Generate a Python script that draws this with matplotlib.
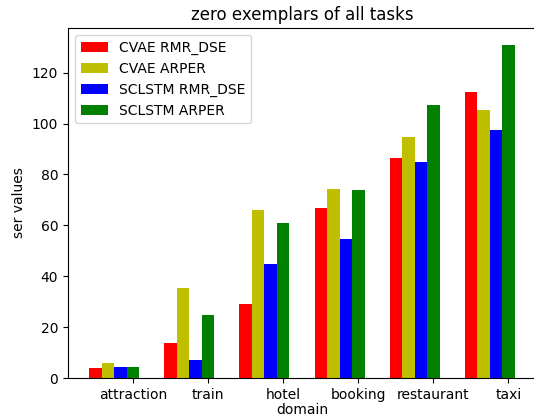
import matplotlib
matplotlib.use('Agg')
import matplotlib.pyplot as plt
import numpy as np

domains = ['attraction', 'train', 'hotel', 'booking', 'restaurant', 'taxi']
cvae_rmr = [3.8, 13.6, 29.1, 66.7, 86.4, 112.5]
cvae_arper = [6.0, 35.2, 65.9, 74.1, 94.9, 105.4]
sclstm_rmr = [4.2, 7.2, 44.7, 54.8, 85.0, 97.6]
sclstm_arper = [4.2, 24.7, 61.0, 73.7, 107.2, 131.0]

fig = plt.figure(figsize=(5.34, 4.18), dpi=100)
# the original figure is cropped on the right, so the axes run past the edge
ax = fig.add_axes([68 / 534, 40 / 418, 468 / 534, 350 / 418])

x = np.arange(len(domains))
w = 1 / 6
ax.bar(x - 3 * w, cvae_rmr, w, color='r', label='CVAE RMR_DSE')
ax.bar(x - 2 * w, cvae_arper, w, color='y', label='CVAE ARPER')
ax.bar(x - w, sclstm_rmr, w, color='b', label='SCLSTM RMR_DSE')
ax.bar(x, sclstm_arper, w, color='g', label='SCLSTM ARPER')
ax.spines['right'].set_visible(False)

ax.set_xticks(x)
ax.set_xticklabels(domains)
ax.set_xlabel('domain', labelpad=1)
ax.set_ylabel('ser values')
ax.set_title('zero exemplars of all tasks')
ax.legend(loc='upper left')

fig.savefig('out.png', dpi=100)
